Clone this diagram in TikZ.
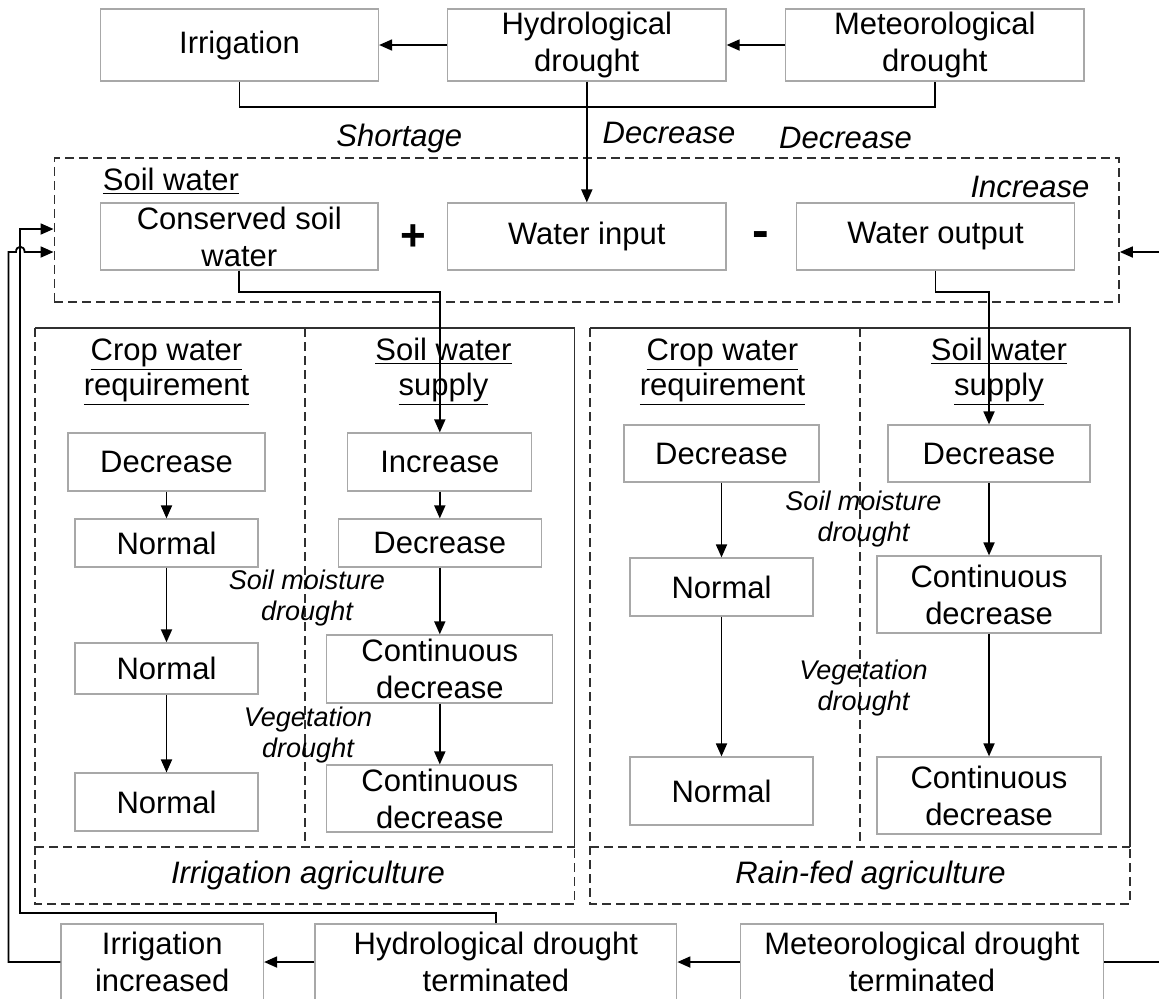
\documentclass[tikz,border=0pt]{standalone}
\usepackage{fontspec}
\setmainfont{Liberation Sans}
\usetikzlibrary{arrows.meta}
\definecolor{boxgray}{HTML}{A8A8A8}
\definecolor{dashgray}{HTML}{303030}
\begin{document}
\begin{tikzpicture}[x=0.5pt,y=-0.5pt,
 box/.style={draw=boxgray, line width=0.6pt, inner sep=0pt, align=center, font=\fontsize{15.5}{18.5}\selectfont, text=black},
 sz/.style 2 args={minimum width=#1*0.5pt, minimum height=#2*0.5pt},
 conn/.style={draw=black, line width=0.9pt},
 arr/.style={conn, -{Triangle[length=6.5pt,width=5.5pt]}},
 dsh/.style={draw=dashgray, line width=0.85pt, dash pattern=on 4.5pt off 2.5pt},
 sol/.style={draw=dashgray, line width=0.85pt},
 lbl/.style={font=\fontsize{15.5}{18.5}\selectfont\itshape, inner sep=0pt},
 slbl/.style={font=\fontsize{13.5}{15.5}\selectfont\itshape, align=center, inner sep=0pt},
 hdr/.style={font=\fontsize{15.5}{17.5}\selectfont, align=center, inner sep=0pt},
 opsign/.style={font=\bfseries\fontsize{22}{22}\selectfont, inner sep=0pt}
]
\useasboundingbox (0,0) rectangle (1159,998);

% top row
\node[box, sz={278}{72}] (irr) at (239.5,45) {Irrigation};
\node[box, sz={278.4}{72}] (hyd) at (586.8,45) {Hydrological\\drought};
\node[box, sz={298.5}{72}] (met) at (934.8,45) {Meteorological\\drought};

% soil water box
\node[dsh, minimum width=1064.6*0.5pt, minimum height=144*0.5pt, inner sep=0pt] (soil) at (586.7,230) {};
\node[hdr, anchor=west] (swt) at (102.5,181) {\underline{Soil water}};
\node[box, sz={277.4}{67}] (cons) at (239.3,236.5) {Conserved soil\\water};
\node[box, sz={278.4}{67}] (win) at (586.8,236.5) {Water input};
\node[box, sz={278}{67}] (wout) at (935.5,236.5) {Water output};
\node[opsign] (plus) at (413,238) {+};
\node[opsign, font=\bfseries\fontsize{25}{25}\selectfont] (minus) at (761,240) {-};

% labels
\node[lbl] (shortage) at (399.3,138) {Shortage};
\node[lbl] (dec1) at (669,133) {Decrease};
\node[lbl] (dec2) at (845.5,138) {Decrease};
\node[lbl] (incr) at (1030,187) {Increase};

% left panel
\draw[dsh] (35,328) rectangle (574.5,904);
\draw[sol] (35,328) -- (574.5,328) -- (574.5,847);
\draw[dsh] (305,328) -- (305,847);
\draw[dsh] (35,847) -- (574.5,847);
\node[hdr] (lcw) at (166.5,372) {\underline{Crop water}\\\underline{requirement}};
\node[hdr] (lsw) at (443.5,372) {\underline{Soil water}\\\underline{supply}};
\node[box, sz={197}{58}] (ld1) at (166.5,462) {Decrease};
\node[box, sz={183}{48}] (ln1) at (166.5,543) {Normal};
\node[box, sz={183}{51}] (ln2) at (166.5,668.4) {Normal};
\node[box, sz={183}{58}] (ln3) at (166.5,802) {Normal};
\node[box, sz={184}{58}] (ls1) at (439.8,462) {Increase};
\node[box, sz={203}{48}] (ls2) at (439.8,543) {Decrease};
\node[box, sz={226}{68}] (ls3) at (439.8,668.9) {Continuous\\decrease};
\node[box, sz={226}{67}] (ls4) at (439.8,798.5) {Continuous\\decrease};
\node[slbl] (lsm) at (307,597.5) {Soil moisture\\drought};
\node[slbl] (lvd) at (308,735) {Vegetation\\drought};
\node[lbl] (lia) at (308,875) {Irrigation agriculture};

% right panel
\draw[dsh] (590,328) rectangle (1130,904);
\draw[sol] (590,328) -- (1130,328) -- (1130,847);
\draw[dsh] (860,328) -- (860,847);
\draw[dsh] (590,847) -- (1130,847);
\node[hdr] (rcw) at (722.5,372) {\underline{Crop water}\\\underline{requirement}};
\node[hdr] (rsw) at (999,372) {\underline{Soil water}\\\underline{supply}};
\node[box, sz={195}{57}] (rd1) at (721.5,453.5) {Decrease};
\node[box, sz={183}{58}] (rn1) at (721.5,587) {Normal};
\node[box, sz={183}{68}] (rn2) at (721.5,791) {Normal};
\node[box, sz={202}{57}] (rs1) at (989,453.5) {Decrease};
\node[box, sz={224}{77}] (rs2) at (989,594.5) {Continuous\\decrease};
\node[box, sz={224}{77}] (rs3) at (989,795.5) {Continuous\\decrease};
\node[slbl] (rsm) at (863.5,519) {Soil moisture\\drought};
\node[slbl] (rvd) at (863.5,687.5) {Vegetation\\drought};
\node[lbl] (lra) at (870.5,875) {Rain-fed agriculture};

% bottom row
\node[box, sz={202.5}{76}] (bi) at (162.25,962) {Irrigation\\increased};
\node[box, sz={361.7}{76}] (bh) at (495.9,962) {Hydrological drought\\terminated};
\node[box, sz={363}{76}] (bm) at (922,962) {Meteorological drought\\terminated};

% helper coordinates
\coordinate (y229) at (0,229);
\coordinate (y252) at (0,252);

% connectors top
\draw[arr] (hyd.west) -- (irr.east);
\draw[arr] (met.west) -- (hyd.east);
\draw[conn] (irr.south) -- ++(0,25) -| (met.south);
\draw[arr] (hyd.south) -- (win.north);
\draw[arr] (cons.south) -- ++(0,21) -| (ls1.north);
\draw[arr] (wout.south) -- ++(0,21) -| (rs1.north);

% column arrows
\draw[arr] (ld1) -- (ln1);
\draw[arr] (ln1) -- (ln2);
\draw[arr] (ln2) -- (ln3);
\draw[arr] (ls1) -- (ls2);
\draw[arr] (ls2) -- (ls3);
\draw[arr] (ls3) -- (ls4);
\draw[arr] (rd1) -- (rn1);
\draw[arr] (rn1) -- (rn2);
\draw[arr] (rs1) -- (rs2);
\draw[arr] (rs2) -- (rs3);

% bottom arrows
\draw[arr] (bm.west) -- (bh.east);
\draw[arr] (bh.west) -- (bi.east);

% feedback loops
\draw[arr] (bh.north) -- (495.9,913) -- (20.3,913) -- (20.3,229) -- (soil.west |- y229);
\draw[arr] (bi.west) -- (8.4,962) -- (8.4,252) -- (16,252) .. controls (16,245) and (24.6,245) .. (24.6,252) -- (soil.west |- y252);
\draw[arr] (bm.east) -- (1180,962) -- (1180,252) -- (soil.east |- y252);
\end{tikzpicture}
\end{document}
